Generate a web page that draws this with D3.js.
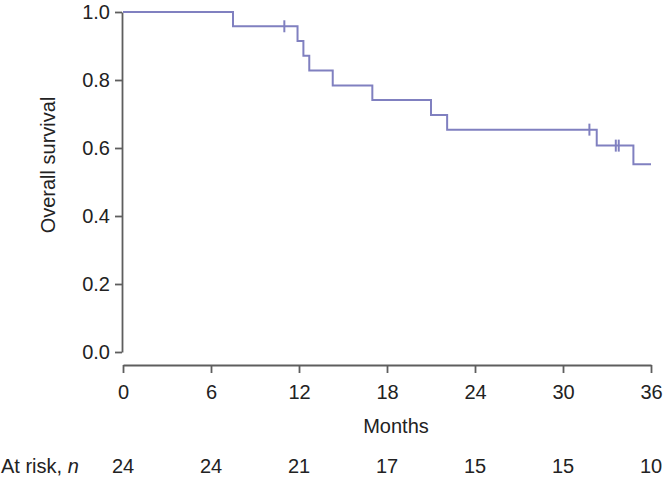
<!DOCTYPE html>
<html>
<head>
<meta charset="utf-8">
<script src="https://cdn.jsdelivr.net/npm/d3@7"></script>
<style>
  html, body { margin: 0; padding: 0; background: #fff; }
  svg { display: block; }
  text { font-family: "Liberation Sans", Arial, Helvetica, sans-serif; fill: #222; }
</style>
</head>
<body>
<svg id="chart" width="670" height="482"></svg>
<script>
// Kaplan-Meier step curve
const stepTimes = [0, 7.5, 11.9, 12.3, 12.7, 14.3, 17.0, 21.0, 22.1, 32.3, 34.8];
const stepSurv  = [1.0, 0.958, 0.915, 0.871, 0.828, 0.784, 0.741, 0.697, 0.654, 0.607, 0.552];
const curveEnd = 36;
// Censoring marks
const censorTimes = [11.0, 31.8, 33.6, 33.8];
const censorSurv  = [0.958, 0.654, 0.607, 0.607];
// Axes
const xTicks = [0, 6, 12, 18, 24, 30, 36];
const yTicks = [0.0, 0.2, 0.4, 0.6, 0.8, 1.0];
// Number at risk
const atRiskTimes = [0, 6, 12, 18, 24, 30, 36];
const atRiskN = [24, 24, 21, 17, 15, 15, 10];

const svg = d3.select("#chart");
const x = d3.scaleLinear().domain([0, 36]).range([123, 651]);
const y = d3.scaleLinear().domain([0, 1]).range([352, 12]);
const axisColor = "#5e5e5e";
const curveColor = "#8080c0";
const fs = 20;
const ff = "Liberation Sans, Arial, sans-serif";

// Y axis
const yAxis = svg.append("g").attr("transform", "translate(122,0)")
  .call(d3.axisLeft(y).tickValues(yTicks).tickFormat(d3.format(".1f")).tickSize(7).tickPadding(5).tickSizeOuter(0));
yAxis.select(".domain").attr("stroke", axisColor).attr("stroke-width", 1.8);
yAxis.selectAll(".tick line").attr("stroke", axisColor).attr("stroke-width", 1.8);
yAxis.selectAll(".tick text").attr("font-size", fs).attr("fill", "#222").attr("font-family", ff);

// X axis (detached, ticks pointing down)
const xAxisY = 365;
const xAxis = svg.append("g").attr("transform", `translate(0,${xAxisY})`)
  .call(d3.axisBottom(x).tickValues(xTicks).tickSize(8).tickPadding(12).tickSizeOuter(0));
xAxis.select(".domain").attr("stroke", axisColor).attr("stroke-width", 1.8);
xAxis.selectAll(".tick line").attr("stroke", axisColor).attr("stroke-width", 1.8);
xAxis.selectAll(".tick text").attr("font-size", fs).attr("fill", "#222").attr("font-family", ff);

// Axis titles
svg.append("text")
  .attr("transform", `translate(55,${y(0.55)}) rotate(-90)`)
  .attr("text-anchor", "middle").attr("font-size", fs)
  .text("Overall survival");
svg.append("text")
  .attr("x", 396).attr("y", 433)
  .attr("text-anchor", "middle").attr("font-size", fs)
  .text("Months");

// At risk row
const riskY = 473;
const lbl = svg.append("text").attr("x", 1).attr("y", riskY).attr("font-size", fs);
lbl.append("tspan").text("At risk, ");
lbl.append("tspan").attr("font-style", "italic").text("n");
svg.selectAll(".risk").data(atRiskN).enter().append("text")
  .attr("class", "risk")
  .attr("x", (d, i) => x(atRiskTimes[i]))
  .attr("y", riskY)
  .attr("text-anchor", "middle").attr("font-size", fs)
  .text(d => d);

// KM curve
const pts = stepTimes.map((t, i) => [t, stepSurv[i]]);
pts.push([curveEnd, stepSurv[stepSurv.length - 1]]);
const line = d3.line().x(d => x(d[0])).y(d => y(d[1])).curve(d3.curveStepAfter);
svg.append("path").datum(pts)
  .attr("d", line).attr("fill", "none")
  .attr("stroke", curveColor).attr("stroke-width", 2);

// Censor marks
svg.selectAll(".cens").data(censorTimes).enter().append("line")
  .attr("class", "cens")
  .attr("x1", d => x(d)).attr("x2", d => x(d))
  .attr("y1", (d, i) => y(censorSurv[i]) - 6)
  .attr("y2", (d, i) => y(censorSurv[i]) + 6)
  .attr("stroke", curveColor).attr("stroke-width", 2);
</script>
</body>
</html>
